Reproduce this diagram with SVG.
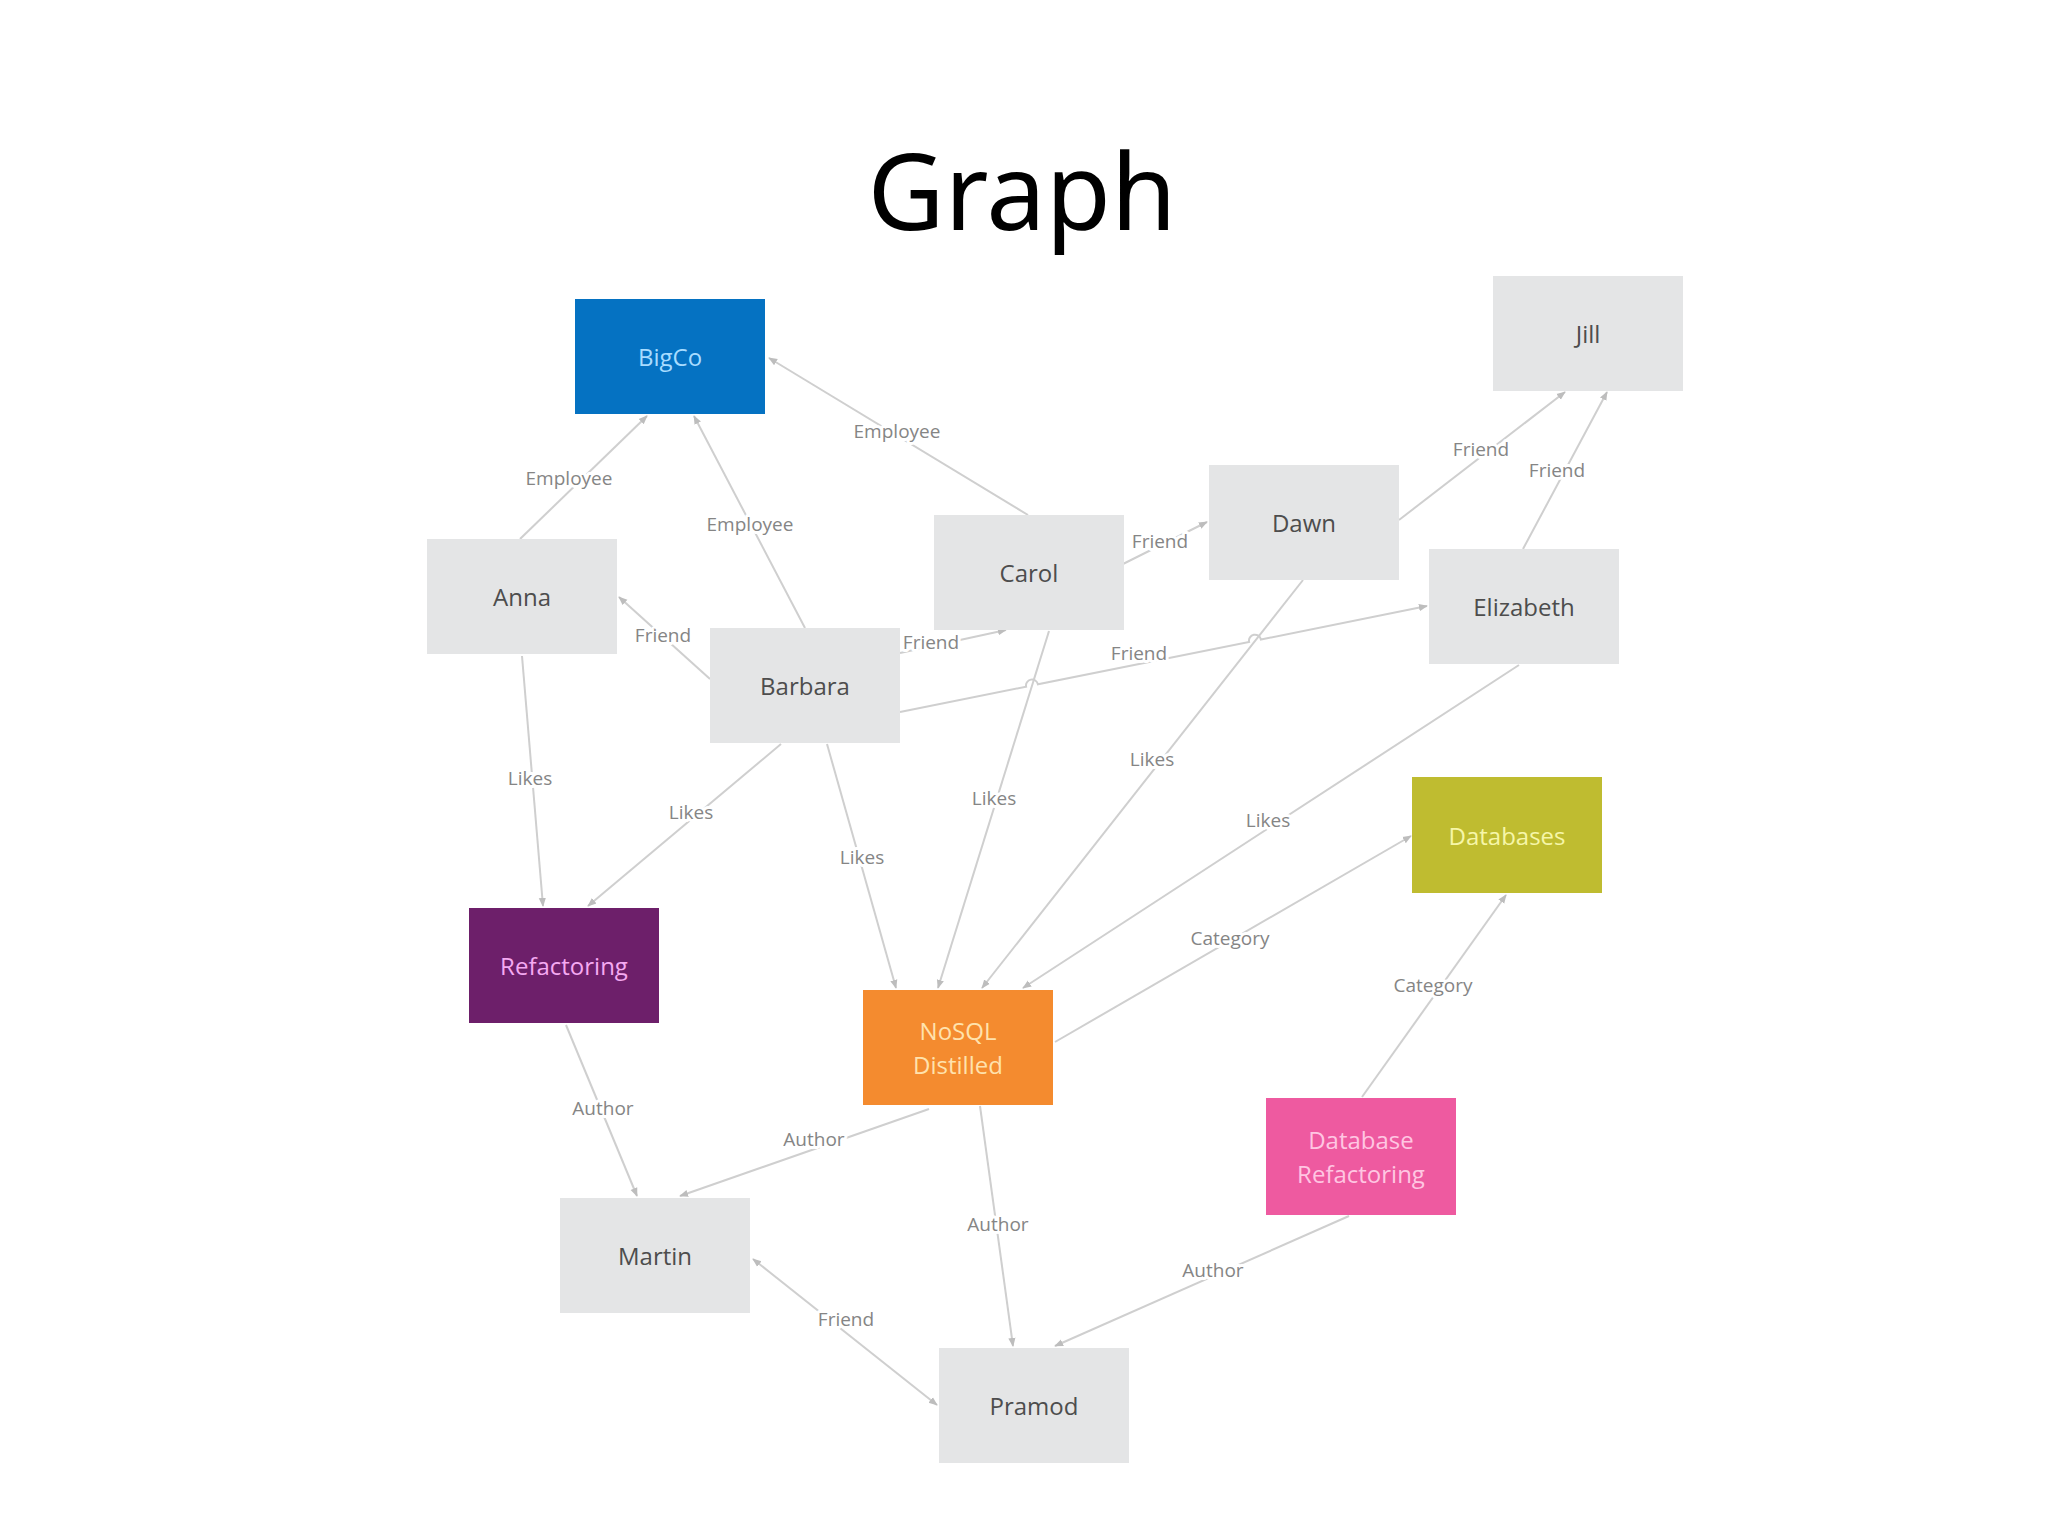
<svg xmlns="http://www.w3.org/2000/svg" width="2048" height="1536" viewBox="0 0 2048 1536">
<style>
.title{font-family:"Noto Sans","Open Sans",sans-serif;font-size:106px;fill:#000}
.n rect{stroke:none}
.g rect{fill:#e4e5e6}
.n text{font-family:"Open Sans","Noto Sans",sans-serif;font-size:24px;text-anchor:middle;dominant-baseline:central}
.g text{fill:#4d4d4d}
.e{fill:none;stroke:#cfcfcf;stroke-width:2}
.lbl{font-family:"Open Sans","Noto Sans",sans-serif;font-size:19px;fill:#858585;text-anchor:middle;dominant-baseline:central;stroke:#fff;stroke-width:6px;paint-order:stroke;stroke-linejoin:round}
</style>
<defs>
<marker id="ar" viewBox="0 0 10 10" refX="9" refY="5" markerWidth="9" markerHeight="9" markerUnits="userSpaceOnUse" orient="auto-start-reverse">
<path d="M0,1 L10,5 L0,9 z" fill="#bdbdbd"/>
</marker>
</defs>
<rect width="2048" height="1536" fill="#fff"/>
<text class="title" x="1022" y="230" text-anchor="middle">Graph</text>

<g id="connectors">
<line class="e" x1="520" y1="539" x2="647" y2="416" marker-end="url(#ar)"/>
<line class="e" x1="805" y1="628" x2="694" y2="416" marker-end="url(#ar)"/>
<line class="e" x1="1028" y1="515" x2="769" y2="358" marker-end="url(#ar)"/>
<line class="e" x1="710" y1="679" x2="619" y2="597" marker-end="url(#ar)"/>
<line class="e" x1="900" y1="653" x2="1006" y2="630" marker-end="url(#ar)"/>
<line class="e" x1="1123" y1="564" x2="1207" y2="522" marker-end="url(#ar)"/>
<path class="e" d="M900,712 L1026.1,686.7 A6,6 0 0 1 1037.9,684.3 L1249.1,641.9 A6,6 0 0 1 1260.9,639.5 L1427,606" marker-end="url(#ar)"/>
<line class="e" x1="1399" y1="520" x2="1565" y2="392" marker-end="url(#ar)"/>
<line class="e" x1="1523" y1="549" x2="1607" y2="392" marker-end="url(#ar)"/>
<line class="e" x1="522" y1="656" x2="543" y2="906" marker-end="url(#ar)"/>
<line class="e" x1="781" y1="744" x2="588" y2="906" marker-end="url(#ar)"/>
<line class="e" x1="827" y1="744" x2="896" y2="988" marker-end="url(#ar)"/>
<line class="e" x1="1049" y1="631" x2="938" y2="988" marker-end="url(#ar)"/>
<line class="e" x1="1303" y1="580" x2="982" y2="988" marker-end="url(#ar)"/>
<line class="e" x1="1519" y1="665" x2="1023" y2="988" marker-end="url(#ar)"/>
<line class="e" x1="1055" y1="1042" x2="1411" y2="836" marker-end="url(#ar)"/>
<line class="e" x1="1362" y1="1097" x2="1506" y2="895" marker-end="url(#ar)"/>
<line class="e" x1="566" y1="1025" x2="637" y2="1196" marker-end="url(#ar)"/>
<line class="e" x1="929" y1="1109" x2="680" y2="1196" marker-end="url(#ar)"/>
<line class="e" x1="980" y1="1106" x2="1013" y2="1346" marker-end="url(#ar)"/>
<line class="e" x1="1349" y1="1216" x2="1055" y2="1346" marker-end="url(#ar)"/>
<line class="e" x1="753" y1="1259" x2="937" y2="1405" marker-start="url(#ar)" marker-end="url(#ar)"/>

<text class="lbl" x="569" y="478">Employee</text>
<text class="lbl" x="750" y="524">Employee</text>
<text class="lbl" x="897" y="431">Employee</text>
<text class="lbl" x="663" y="635">Friend</text>
<text class="lbl" x="931" y="642">Friend</text>
<text class="lbl" x="1160" y="541">Friend</text>
<text class="lbl" x="1139" y="653">Friend</text>
<text class="lbl" x="1481" y="449">Friend</text>
<text class="lbl" x="1557" y="470">Friend</text>
<text class="lbl" x="530" y="778">Likes</text>
<text class="lbl" x="691" y="812">Likes</text>
<text class="lbl" x="862" y="857">Likes</text>
<text class="lbl" x="994" y="798">Likes</text>
<text class="lbl" x="1152" y="759">Likes</text>
<text class="lbl" x="1268" y="820">Likes</text>
<text class="lbl" x="1230" y="938">Category</text>
<text class="lbl" x="1433" y="985">Category</text>
<text class="lbl" x="603" y="1108">Author</text>
<text class="lbl" x="814" y="1139">Author</text>
<text class="lbl" x="998" y="1224">Author</text>
<text class="lbl" x="1213" y="1270">Author</text>
<text class="lbl" x="846" y="1319">Friend</text>
</g>

<g id="bigco" class="n"><rect x="575" y="299" width="190" height="115" fill="#0572c2"/><text x="670" y="356" fill="#a8dcff">BigCo</text></g>
<g id="jill" class="n g"><rect x="1493" y="276" width="190" height="115"/><text x="1588" y="333">Jill</text></g>
<g id="dawn" class="n g"><rect x="1209" y="465" width="190" height="115"/><text x="1304" y="522">Dawn</text></g>
<g id="carol" class="n g"><rect x="934" y="515" width="190" height="115"/><text x="1029" y="572">Carol</text></g>
<g id="anna" class="n g"><rect x="427" y="539" width="190" height="115"/><text x="522" y="596">Anna</text></g>
<g id="elizabeth" class="n g"><rect x="1429" y="549" width="190" height="115"/><text x="1524" y="606">Elizabeth</text></g>
<g id="barbara" class="n g"><rect x="710" y="628" width="190" height="115"/><text x="805" y="685">Barbara</text></g>
<g id="databases" class="n"><rect x="1412" y="777" width="190" height="116" fill="#bfbc30"/><text x="1507" y="835" fill="#f6f6a8">Databases</text></g>
<g id="refactoring" class="n"><rect x="469" y="908" width="190" height="115" fill="#6d1f6a"/><text x="564" y="965" fill="#f5aaf2">Refactoring</text></g>
<g id="nosql" class="n"><rect x="863" y="990" width="190" height="115" fill="#f48b2f"/><text x="958" y="1030" fill="#ffe2ad">NoSQL</text><text x="958" y="1064" fill="#ffe2ad">Distilled</text></g>
<g id="dbrefactoring" class="n"><rect x="1266" y="1098" width="190" height="117" fill="#ee5aa0"/><text x="1361" y="1139" fill="#ffc6e2">Database</text><text x="1361" y="1173" fill="#ffc6e2">Refactoring</text></g>
<g id="martin" class="n g"><rect x="560" y="1198" width="190" height="115"/><text x="655" y="1255">Martin</text></g>
<g id="pramod" class="n g"><rect x="939" y="1348" width="190" height="115"/><text x="1034" y="1405">Pramod</text></g>
</svg>
